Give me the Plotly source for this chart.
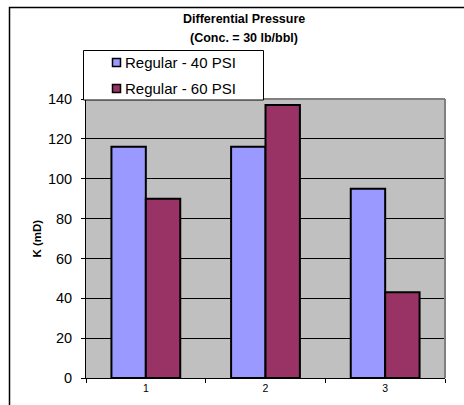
import plotly.graph_objects as go

# Permeability by sample, two differential pressures
categories = ["1", "2", "3"]
series_names = ["Regular - 40 PSI", "Regular - 60 PSI"]
k_40psi = [116, 116, 95]
k_60psi = [90, 137, 43]
series_colors = ["#9999FF", "#993366"]
y_ticks = [0, 20, 40, 60, 80, 100, 120, 140]

W, H = 464, 405
PL, PR, PT, PB = 86, 445, 99, 378  # plot area in pixels

FONT = "Liberation Sans, Arial, sans-serif"


def px_x(px):
    return (px - PL) / (PR - PL)


def px_y(py):
    return (PB - py) / (PB - PT)


fig = go.Figure()
for name, vals, col in zip(series_names, [k_40psi, k_60psi], series_colors):
    fig.add_trace(go.Bar(
        x=categories, y=vals, name=name,
        marker=dict(color=col, line=dict(color="black", width=2)),
        showlegend=False,
    ))

shapes = [
    # outer chart frame
    dict(type="rect", xref="paper", yref="paper",
         x0=px_x(9.5), x1=px_x(470), y0=px_y(420), y1=px_y(7.5),
         line=dict(color="black", width=1.5), fillcolor="rgba(0,0,0,0)", layer="below"),
    # plot area top/right border
    dict(type="line", xref="paper", yref="paper", x0=0, x1=1, y0=1, y1=1,
         line=dict(color="#808080", width=2), layer="above"),
    dict(type="line", xref="paper", yref="paper", x0=1, x1=1, y0=0, y1=1,
         line=dict(color="#808080", width=2), layer="above"),
    # legend box
    dict(type="rect", xref="paper", yref="paper",
         x0=px_x(83.5), x1=px_x(263.5), y0=px_y(100), y1=px_y(50.5),
         line=dict(color="black", width=1), fillcolor="white", layer="above"),
]

annotations = [
    dict(text="<b>Differential Pressure</b>", xref="paper", yref="paper",
         x=px_x(243.5), y=px_y(19), xanchor="center", yanchor="middle",
         showarrow=False, font=dict(family=FONT, size=12.5, color="black")),
    dict(text="<b>(Conc. = 30 lb/bbl)</b>", xref="paper", yref="paper",
         x=px_x(243.5), y=px_y(38), xanchor="center", yanchor="middle",
         showarrow=False, font=dict(family=FONT, size=12.5, color="black")),
    dict(text="<b>K (mD)</b>", xref="paper", yref="paper",
         x=px_x(36), y=px_y(238.5), xanchor="center", yanchor="middle",
         textangle=-90, showarrow=False,
         font=dict(family=FONT, size=11.5, color="black")),
]

# legend entries: swatch + label
for i, (name, col) in enumerate(zip(series_names, series_colors)):
    cy = 62.5 + 26 * i
    shapes.append(dict(type="rect", xref="paper", yref="paper",
                       x0=px_x(112.5), x1=px_x(120.5),
                       y0=px_y(cy + 4), y1=px_y(cy - 4),
                       line=dict(color="black", width=1.5), fillcolor=col,
                       layer="above"))
    annotations.append(dict(text=name, xref="paper", yref="paper",
                            x=px_x(122.5), y=px_y(cy), xanchor="left",
                            yanchor="middle", showarrow=False,
                            font=dict(family=FONT, size=15, color="black")))

fig.update_layout(
    width=W, height=H,
    margin=dict(l=PL, r=W - PR, t=PT, b=H - PB, pad=0),
    paper_bgcolor="white",
    plot_bgcolor="#C0C0C0",
    barmode="group", bargap=0.425, bargroupgap=0,
    font=dict(family=FONT, color="black"),
    shapes=shapes,
    annotations=annotations,
    showlegend=False,
)

fig.update_xaxes(
    type="category", showline=True, linecolor="black", linewidth=1,
    ticks="outside", tickson="boundaries", ticklen=4, tickcolor="black",
    tickfont=dict(size=10.5, family=FONT, color="black"),
    showgrid=False, zeroline=False,
)
fig.update_yaxes(
    range=[0, 140], tickvals=y_ticks, showline=True, linecolor="black",
    linewidth=1, ticks="outside", ticklen=4, tickcolor="black",
    tickfont=dict(size=14.5, family=FONT, color="black"),
    showgrid=True, gridcolor="black", gridwidth=1, zeroline=False,
    ticklabelstandoff=6,
)

fig.write_html("out.html")
